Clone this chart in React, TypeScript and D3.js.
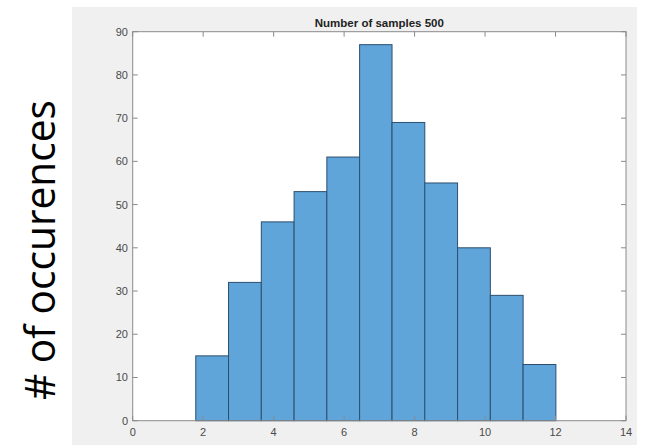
import React from "react";
import * as d3 from "d3";

const binEdges = [1.79, 2.72, 3.65, 4.58, 5.51, 6.44, 7.36, 8.29, 9.22, 10.15, 11.08, 12.01];
const counts = [15, 32, 46, 53, 61, 87, 69, 55, 40, 29, 13];
const xTicks = [0, 2, 4, 6, 8, 10, 12, 14];
const yTicks = [0, 10, 20, 30, 40, 50, 60, 70, 80, 90];
const title = "Number of samples 500";
const yLabel = "# of occurences";

export default function App() {
  const W = 650, H = 445;
  const left = 132.7, right = 626, top = 31.7, bottom = 420.7;
  const x = d3.scaleLinear().domain([0, 14]).range([left, right]);
  const y = d3.scaleLinear().domain([0, 90]).range([bottom, top]);
  const axisColor = "#8a8a8a";
  const textColor = "#4a4a4a";
  const font = "'Liberation Sans', Arial, sans-serif";
  return (
    <svg width={W} height={H} style={{ position: "absolute", left: 0, top: 0, display: "block" }}>
      <rect x={0} y={0} width={W} height={H} fill="#ffffff" />
      <rect x={72} y={7} width={565} height={438} fill="#f0f0f0" />
      <rect x={left} y={top} width={right - left} height={bottom - top} fill="#ffffff" />
      {counts.map((c, i) => (
        <rect
          key={i}
          x={x(binEdges[i])}
          y={y(c)}
          width={x(binEdges[i + 1]) - x(binEdges[i])}
          height={y(0) - y(c)}
          fill="#5fa5da"
          stroke="#2c4f6e"
          strokeWidth={1}
        />
      ))}
      <rect x={left} y={top} width={right - left} height={bottom - top} fill="none" stroke={axisColor} strokeWidth={1} />
      {xTicks.map((t) => (
        <g key={"x" + t}>
          <line x1={x(t)} x2={x(t)} y1={bottom} y2={bottom - 5} stroke={axisColor} />
          <line x1={x(t)} x2={x(t)} y1={top} y2={top + 5} stroke={axisColor} />
          <text x={x(t)} y={436} textAnchor="middle" fontSize={11} fill={textColor} fontFamily={font}>
            {t}
          </text>
        </g>
      ))}
      {yTicks.map((t) => (
        <g key={"y" + t}>
          <line x1={left} x2={left + 5} y1={y(t)} y2={y(t)} stroke={axisColor} />
          <line x1={right} x2={right - 5} y1={y(t)} y2={y(t)} stroke={axisColor} />
          <text x={128} y={y(t) + 4} textAnchor="end" fontSize={11} fill={textColor} fontFamily={font}>
            {t}
          </text>
        </g>
      ))}
      <text x={(left + right) / 2} y={27} textAnchor="middle" fontSize={11.5} fontWeight="bold" fill="#222" fontFamily={font}>
        {title}
      </text>
      <text
        transform="translate(55,250) rotate(-90)"
        textAnchor="middle"
        fontSize={42}
        fill="#000"
        fontFamily="'Open Sans', sans-serif"
        textLength={300}
        lengthAdjust="spacingAndGlyphs"
      >
        {yLabel}
      </text>
    </svg>
  );
}
